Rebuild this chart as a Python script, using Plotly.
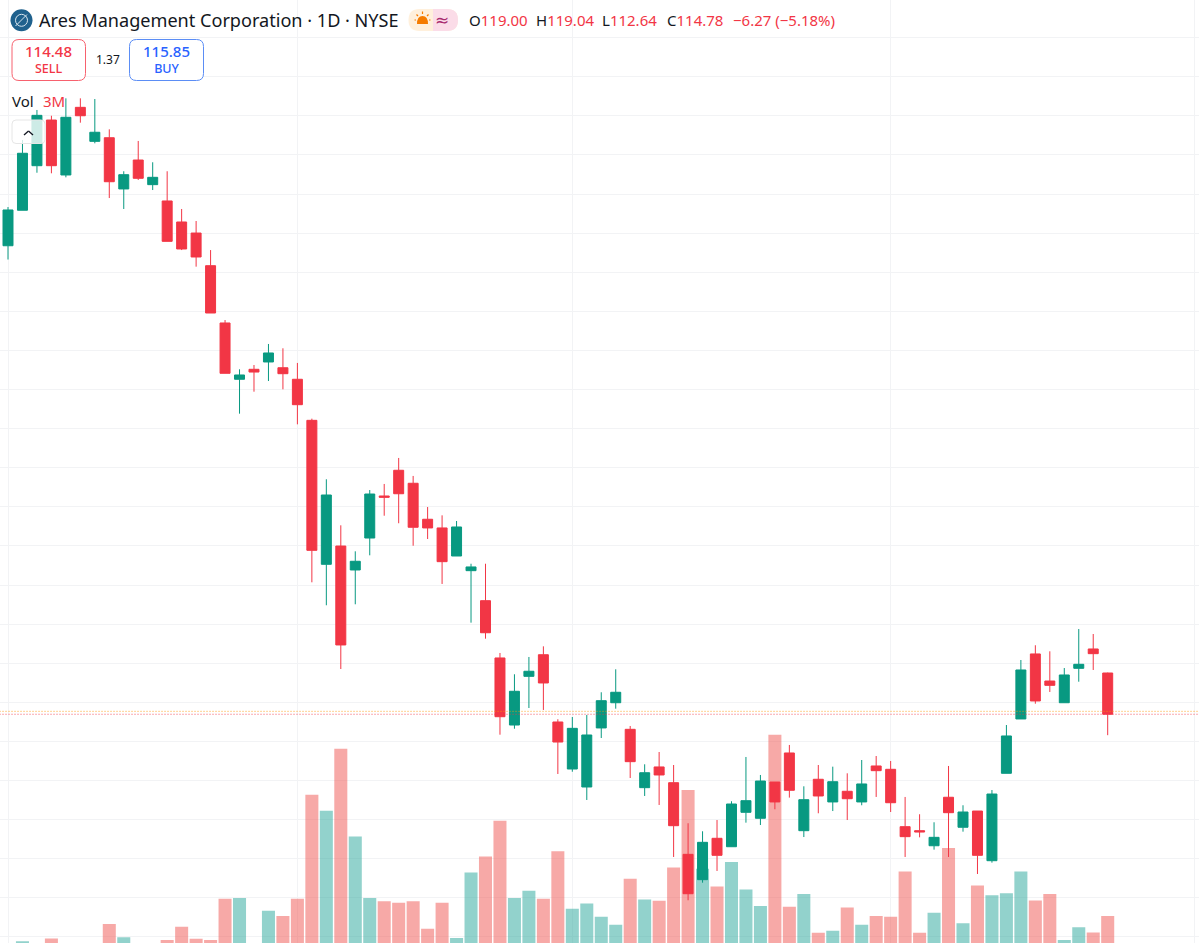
import plotly.graph_objects as go

W, H = 1199, 943
FONT = "Noto Sans"

# ---- data (prices in USD, volume in millions) ----
opens = [162.71,166.34,170.90,175.57,169.95,176.87,173.39,173.76,168.52,171.48,168.96,167.29,165.14,164.01,160.67,154.81,149.05,150.07,150.82,150.23,149.05,144.85,130.12,131.99,129.54,132.81,137.11,139.74,138.41,134.73,133.84,130.97,129.47,126.40,120.54,113.68,118.66,120.87,113.99,109.18,107.34,113.38,115.96,113.24,107.27,109.39,107.78,100.45,97.86,102.09,101.23,104.75,104.14,107.85,110.82,102.87,108.13,105.81,106.90,105.81,109.49,109.15,103.28,102.87,101.33,106.29,103.22,104.88,99.80,108.74,114.30,120.95,118.18,115.96,119.48,121.46,119.00]
highs = [166.67,173.53,176.60,176.01,177.79,177.79,177.72,174.62,170.33,173.43,171.25,170.33,166.47,165.24,162.27,155.11,150.07,150.51,152.66,152.22,150.72,145.02,138.82,134.11,131.45,137.72,138.34,141.00,139.16,135.98,135.13,134.55,130.18,130.18,121.05,118.87,120.64,121.73,114.27,114.50,114.71,117.03,119.38,113.58,109.66,110.92,109.59,103.63,102.81,103.96,105.88,110.41,108.57,107.85,111.64,107.41,109.59,109.42,108.74,110.10,110.51,110.00,106.32,104.55,103.73,109.49,105.47,104.88,107.03,113.68,120.33,121.84,121.22,119.51,123.50,122.99,119.04]
lows = [161.30,166.34,170.18,170.12,169.71,175.30,173.19,167.59,166.47,169.44,168.41,163.16,162.27,160.57,155.83,149.66,145.53,147.78,148.87,148.02,144.44,128.28,125.93,119.41,126.03,131.04,135.09,134.32,132.02,132.71,128.11,130.97,124.15,122.51,112.69,113.30,115.42,115.22,108.67,108.90,106.01,112.35,115.35,108.26,106.42,105.50,100.18,95.75,97.55,98.75,101.23,103.69,103.45,105.06,106.25,102.22,104.65,104.88,103.96,105.47,106.32,104.78,100.18,102.19,100.93,100.18,102.77,98.44,99.60,108.74,114.30,115.86,117.06,115.96,118.11,119.31,112.64]
closes = [166.37,172.17,176.05,170.90,175.85,176.01,174.32,169.26,169.98,169.61,169.71,163.16,162.38,161.56,155.83,149.66,149.49,149.79,151.74,149.62,146.45,131.55,137.21,121.87,130.43,137.31,136.98,137.34,133.91,133.84,130.39,133.94,129.85,123.12,114.53,117.13,119.18,117.98,111.94,113.34,112.66,116.17,117.03,109.93,108.80,108.57,103.38,96.42,101.68,100.35,105.60,105.94,107.95,105.81,107.00,106.04,106.42,107.88,106.14,107.65,109.01,105.73,102.26,102.74,102.19,104.71,104.78,100.35,106.62,112.56,119.31,116.14,117.74,118.80,119.89,120.98,114.78]
volumes = [2.1,2.37,2.0,2.44,2.1,2.2,2.0,2.80,2.47,2.2,1.9,2.40,2.73,2.43,2.40,3.43,3.45,2.2,3.13,3.00,3.43,6.03,5.63,7.18,4.99,3.45,3.37,3.33,3.37,2.68,3.33,2.45,4.09,4.49,5.38,3.45,3.63,3.43,4.62,3.18,3.31,2.98,2.78,3.93,3.41,3.38,4.21,6.15,4.18,3.74,4.35,3.66,3.25,7.53,3.23,3.55,2.58,2.63,3.21,2.78,3.00,2.98,4.11,2.58,3.08,4.70,2.82,3.76,3.52,3.57,4.11,3.39,3.55,2.40,2.72,2.59,3.00]
sessions = list(range(len(closes)))
month_starts = [0, 20, 39, 61, 82]
price_ticks = list(range(92, 190, 4))
last_close = 114.78
premarket = 115.08

title = "Ares Management Corporation · 1D · NYSE"
ohlc_labels = [("O", "119.00", 467.5), ("H", "119.04", 535), ("L", "112.64", 601.5), ("C", "114.78", 666)]
change_text = "−6.27 (−5.18%)"

RED, GREEN = "#F23645", "#089981"
VOL_RED, VOL_GREEN = "rgba(239,83,80,0.5)", "rgba(38,166,154,0.5)"

px = lambda x: x / W
py = lambda y: 1 - y / H

fig = go.Figure()
fig.add_trace(go.Bar(
    x=sessions, y=volumes, yaxis="y", width=0.9,
    marker=dict(color=[VOL_RED if c < o else VOL_GREEN for o, c in zip(opens, closes)], line=dict(width=0)),
    hoverinfo="skip", showlegend=False))
fig.add_trace(go.Candlestick(
    x=sessions, open=opens, high=highs, low=lows, close=closes, yaxis="y2",
    increasing=dict(line=dict(color=GREEN, width=1), fillcolor=GREEN),
    decreasing=dict(line=dict(color=RED, width=1), fillcolor=RED),
    whiskerwidth=0, showlegend=False))
fig.add_trace(go.Scatter(x=[-1, 84], y=[premarket, premarket], yaxis="y2", mode="lines",
    line=dict(color="rgba(255,152,0,0.85)", width=1, dash="1px,2px"), showlegend=False, hoverinfo="skip"))
fig.add_trace(go.Scatter(x=[-1, 84], y=[last_close, last_close], yaxis="y2", mode="lines",
    line=dict(color="rgba(242,54,69,0.85)", width=1, dash="1px,2px"), showlegend=False, hoverinfo="skip"))

def rrect(x0, y0, x1, y1, r, fill, line, lw=1):
    path = (f"M{px(x0+r)},{py(y0)} L{px(x1-r)},{py(y0)} Q{px(x1)},{py(y0)} {px(x1)},{py(y0+r)} "
            f"L{px(x1)},{py(y1-r)} Q{px(x1)},{py(y1)} {px(x1-r)},{py(y1)} L{px(x0+r)},{py(y1)} "
            f"Q{px(x0)},{py(y1)} {px(x0)},{py(y1-r)} L{px(x0)},{py(y0+r)} Q{px(x0)},{py(y0)} {px(x0+r)},{py(y0)} Z")
    return dict(type="path", xref="paper", yref="paper", path=path, fillcolor=fill,
                line=dict(color=line, width=lw), layer="above")

def circle(cx, cy, r, fill, line="rgba(0,0,0,0)", lw=0):
    return dict(type="circle", xref="paper", yref="paper", x0=px(cx-r), x1=px(cx+r), y0=py(cy+r), y1=py(cy-r),
                fillcolor=fill, line=dict(color=line, width=lw), layer="above")

def seg(x0, y0, x1, y1, color, lw=1.3):
    return dict(type="line", xref="paper", yref="paper", x0=px(x0), x1=px(x1), y0=py(y0), y1=py(y1),
                line=dict(color=color, width=lw), layer="above")

shapes = [
    # logo
    circle(21.5, 20.3, 11, "#1F618D"),
    circle(21.5, 20.3, 6, "rgba(0,0,0,0)", "#D8E6EF", 1),
    seg(15.5, 26, 27, 14.5, "#D8E6EF", 1),
    # session / news pill
    rrect(408.5, 9, 458, 31, 11, "#FFF0DC", "rgba(0,0,0,0)", 0),
    dict(type="path", xref="paper", yref="paper", layer="above", line=dict(width=0), fillcolor="#FBDCE8",
         path=(f"M{px(433)},{py(9)} L{px(447)},{py(9)} Q{px(458)},{py(9)} {px(458)},{py(20)} "
               f"Q{px(458)},{py(31)} {px(447)},{py(31)} L{px(433)},{py(31)} Z")),
    # sun
    dict(type="path", xref="paper", yref="paper", layer="above", line=dict(width=0), fillcolor="#F57C00",
         path=f"M{px(417)},{py(24)} L{px(428)},{py(24)} Q{px(428)},{py(16)} {px(422.5)},{py(16)} Q{px(417)},{py(16)} {px(417)},{py(24)} Z"),
    seg(422.5, 11.5, 422.5, 14, "#F57C00", 1.2),
    seg(414.5, 20, 416, 20, "#F57C00", 1.2),
    seg(429, 20, 430.5, 20, "#F57C00", 1.2),
    seg(416.5, 14.5, 418, 16, "#F57C00", 1.2),
    seg(427, 16, 428.5, 14.5, "#F57C00", 1.2),
    # buttons
    rrect(12, 39.5, 85.5, 80.5, 7, "rgba(255,255,255,1)", "#F7616E", 1),
    rrect(129.5, 39.5, 203.5, 80.5, 7, "rgba(255,255,255,1)", "#5B8DF5", 1),
    # collapse button
    rrect(12, 120, 45, 143.5, 4, "rgba(255,255,255,0.8)", "#E6E6E6", 1),
    seg(24, 135, 28.5, 131, "#131722", 1.4),
    seg(28.5, 131, 33, 135, "#131722", 1.4),
]

def note(x, y, text, size, color, anchor="left", family=FONT, weight=400):
    return dict(xref="paper", yref="paper", x=px(x), y=py(y), text=text, showarrow=False,
                xanchor=anchor, yanchor="middle", align=anchor,
                font=dict(family=family, size=size, color=color, weight=weight), borderpad=0)

quote = lambda value, side: f'<span style="font-size:15px">{value}</span><br>{side}'

annotations = [
    note(37.5, 20.5, title, 18.1, "#131722"),
    note(441.5, 20.5, "≈", 17, "#A82A6E", "center", "DejaVu Sans"),
    note(48.5, 59, quote("114.48", "SELL"), 12.5, RED, "center", weight=500),
    note(107.5, 60, "1.37", 12, "#131722", "center"),
    note(166.5, 59, quote("115.85", "BUY"), 12.5, "#2962FF", "center", weight=500),
    note(11, 101, "Vol", 15, "#131722"),
    note(42, 101, "3M", 15, RED),
    note(732, 20.5, change_text, 15, RED),
]
for letter, value, x in ohlc_labels:
    annotations.append(note(x, 20.5, f'<span style="color:#131722">{letter}</span>{value}', 15, RED))

fig.update_layout(
    width=W, height=H, margin=dict(l=0, r=0, t=0, b=0),
    paper_bgcolor="white", plot_bgcolor="white",
    boxgap=0.31, boxgroupgap=0, boxmode="overlay", bargap=0.1,
    dragmode=False, showlegend=False,
    shapes=shapes, annotations=annotations,
    xaxis=dict(range=[-0.553, 82.31], tickmode="array", tickvals=month_starts, showticklabels=False,
               showgrid=True, gridcolor="#F2F3F5", gridwidth=1, zeroline=False, ticks="",
               rangeslider=dict(visible=False), showline=False, fixedrange=True),
    yaxis=dict(range=[2.325, 25.9], showgrid=False, zeroline=False, showticklabels=False, ticks="",
               showline=False, fixedrange=True),
    yaxis2=dict(range=[91.38, 187.85], overlaying="y", tickmode="array", tickvals=price_ticks,
                showticklabels=False, showgrid=True, gridcolor="#F2F3F5", gridwidth=1,
                zeroline=False, ticks="", showline=False, fixedrange=True),
)
fig.write_html("out.html", config={"displayModeBar": False},
               post_script="document.body.style.margin='0';document.documentElement.style.overflow='hidden';")
